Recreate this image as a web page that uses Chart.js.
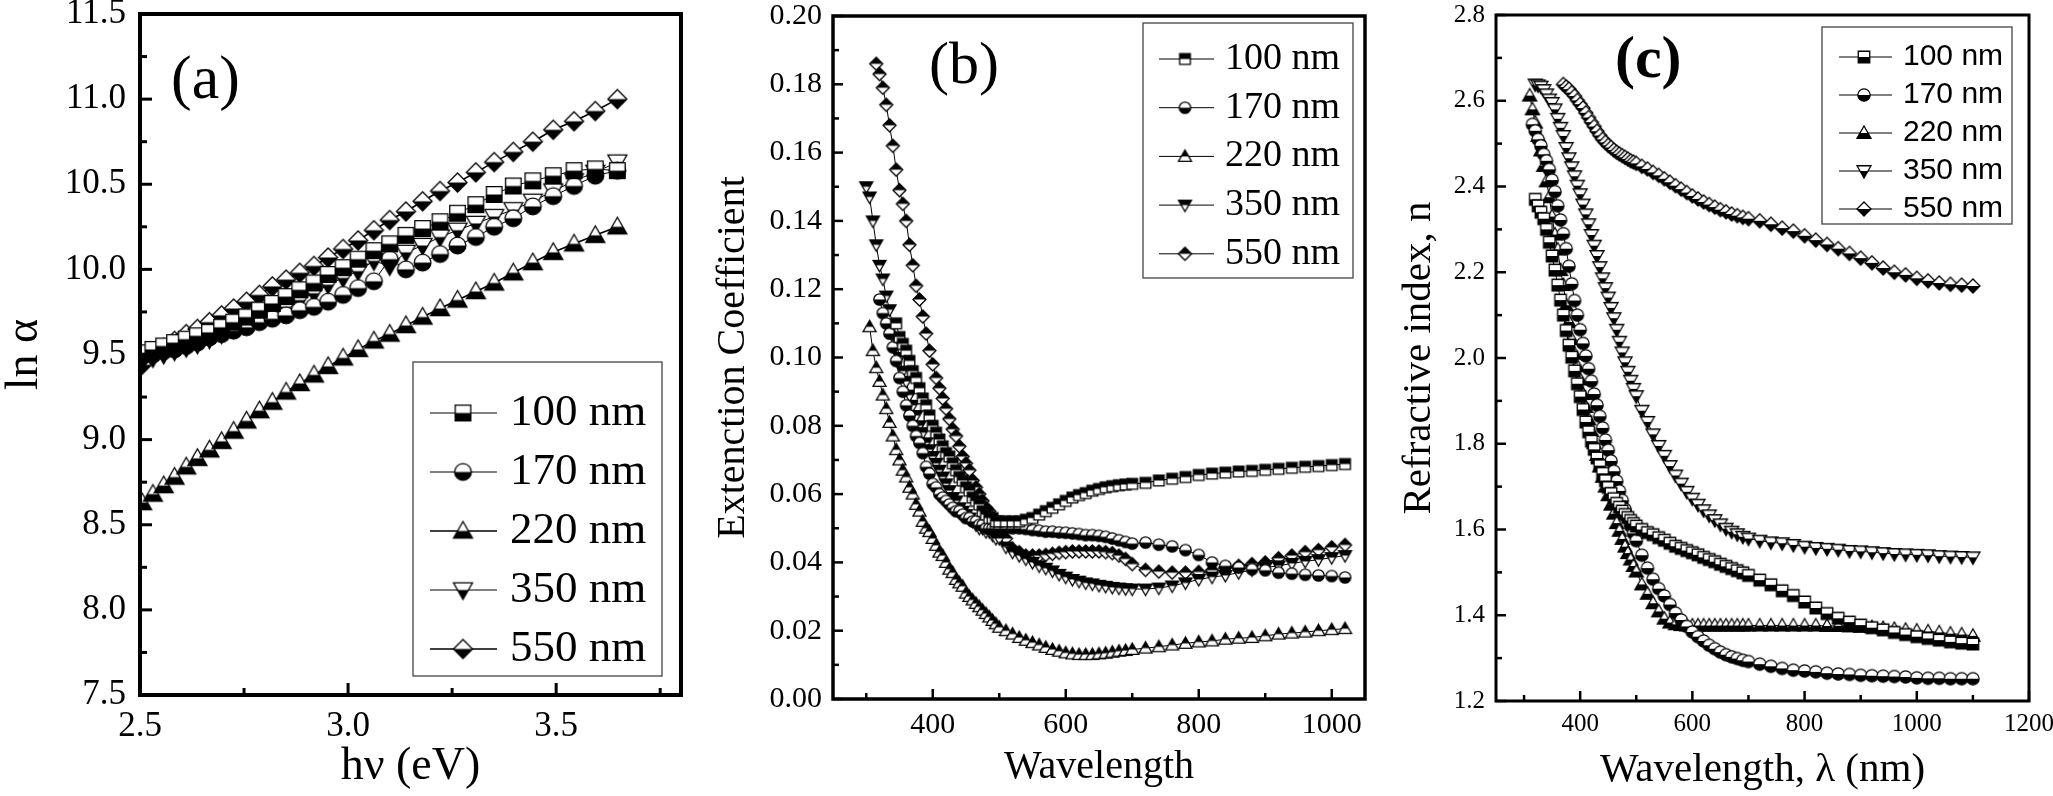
<!DOCTYPE html>
<html>
<head>
<meta charset="utf-8">
<script src="https://cdn.jsdelivr.net/npm/chart.js@4.4.0/dist/chart.umd.min.js"></script>
<style>
html, body { margin: 0; padding: 0; background: #fff; }
#fig { position: relative; width: 2053px; height: 796px; overflow: hidden; background: #fff; }
canvas { position: absolute; top: 0; }
</style>
</head>
<body>
<div id="fig">
  <canvas id="pa" width="700" height="796" style="left:0px"></canvas>
  <canvas id="pb" width="680" height="796" style="left:700px"></canvas>
  <canvas id="pc" width="673" height="796" style="left:1380px"></canvas>
</div>
<script>
// ---------- data ----------
let seriesLabels = ['100 nm', '170 nm', '220 nm', '350 nm', '550 nm'];

// (a) ln(alpha) vs photon energy
let aEnergy = [2.505, 2.531, 2.557, 2.583, 2.611, 2.638, 2.667, 2.696, 2.725, 2.756, 2.787, 2.818, 2.851, 2.884, 2.918, 2.952,
  2.988, 3.024, 3.062, 3.100, 3.139, 3.179, 3.221, 3.263, 3.307, 3.351, 3.397, 3.444, 3.493, 3.543, 3.594, 3.647];
let a100 = [9.51, 9.53, 9.55, 9.57, 9.59, 9.61, 9.63, 9.66, 9.69, 9.72, 9.76, 9.80, 9.84, 9.88, 9.92, 9.97,
  10.01, 10.06, 10.11, 10.15, 10.20, 10.24, 10.28, 10.33, 10.38, 10.44, 10.49, 10.52, 10.55, 10.58, 10.59, 10.58];
let a170 = [9.49, 9.50, 9.52, 9.53, 9.55, 9.57, 9.60, 9.62, 9.64, 9.66, 9.69, 9.71, 9.73, 9.76, 9.78, 9.81,
  9.85, 9.89, 9.93, 10.06, 10.00, 10.04, 10.09, 10.14, 10.19, 10.25, 10.30, 10.37, 10.43, 10.49, 10.55, 10.58];
let a220 = [8.63, 8.68, 8.73, 8.78, 8.84, 8.89, 8.94, 8.99, 9.05, 9.11, 9.17, 9.22, 9.28, 9.33, 9.38, 9.43,
  9.48, 9.53, 9.58, 9.62, 9.67, 9.72, 9.77, 9.82, 9.87, 9.92, 9.98, 10.04, 10.10, 10.15, 10.20, 10.25];
let a350 = [9.46, 9.48, 9.50, 9.52, 9.54, 9.56, 9.59, 9.62, 9.65, 9.68, 9.71, 9.74, 9.78, 9.82, 9.86, 9.91,
  9.95, 9.99, 10.05, 10.02, 10.10, 10.14, 10.19, 10.23, 10.27, 10.31, 10.35, 10.40, 10.46, 10.52, 10.57, 10.63];
let a550 = [9.44, 9.50, 9.54, 9.58, 9.62, 9.65, 9.69, 9.73, 9.77, 9.81, 9.85, 9.90, 9.94, 9.98, 10.02, 10.07,
  10.12, 10.17, 10.23, 10.29, 10.34, 10.40, 10.46, 10.51, 10.57, 10.63, 10.69, 10.75, 10.82, 10.87, 10.93, 11.00];

// (b) extinction coefficient vs wavelength
let bWave = [300, 305, 310, 315, 320, 325, 330, 335, 340, 345, 350, 355, 360, 365, 370, 375, 380, 385, 390, 395,
  400, 405, 410, 415, 420, 425, 430, 435, 440, 445, 450, 455, 460, 465, 470, 475, 480, 485, 490, 495, 500,
  510, 520, 530, 540, 550, 560, 570, 580, 590, 600, 610, 620, 630, 640, 650, 660, 670, 680, 690, 700,
  720, 740, 760, 780, 800, 820, 840, 860, 880, 900, 920, 940, 960, 980, 1000, 1020];
let b100 = [null, null, null, null, null, null, null, null, null,
  0.110, 0.106, 0.104, 0.102, 0.099, 0.096, 0.094, 0.091, 0.088, 0.086, 0.083, 0.080, 0.078, 0.076, 0.074, 0.072, 0.071,
  0.069, 0.067, 0.065, 0.064, 0.062, 0.061, 0.059, 0.058, 0.057, 0.055, 0.054, 0.053, 0.053, 0.052, 0.052,
  0.052, 0.052, 0.052, 0.0525, 0.053, 0.054, 0.055, 0.056, 0.057, 0.058, 0.059, 0.0597, 0.0603, 0.061, 0.0615, 0.062,
  0.0623, 0.0626, 0.0628, 0.063,
  0.0633, 0.064, 0.0645, 0.065, 0.0656, 0.066, 0.0663, 0.0666, 0.0668, 0.0671, 0.0674, 0.0677, 0.068, 0.0682, 0.0685, 0.0688];
let b170 = [null, null, null, null,
  0.117, 0.113, 0.110, 0.107, 0.103, 0.099, 0.094, 0.090, 0.086, 0.083, 0.080, 0.077, 0.075, 0.072, 0.068, 0.066,
  0.063, 0.062, 0.060, 0.059, 0.058, 0.057, 0.056, 0.055, 0.055, 0.054, 0.053, 0.053, 0.052, 0.052, 0.051, 0.051,
  0.050, 0.050, 0.050, 0.050, 0.050,
  0.050, 0.050, 0.050, 0.0498, 0.0495, 0.0493, 0.049, 0.049, 0.0488, 0.0487, 0.0485, 0.0483, 0.048, 0.048, 0.0478, 0.0475,
  0.047, 0.0465, 0.046, 0.0455,
  0.0458, 0.0452, 0.0447, 0.0436, 0.0422, 0.040, 0.039, 0.0385, 0.038, 0.0377, 0.037, 0.0367, 0.0364, 0.0362, 0.036, 0.0356];
let b220 = [null,
  0.109, 0.102, 0.097, 0.093, 0.089, 0.085, 0.081, 0.077, 0.073, 0.070, 0.067, 0.065, 0.062, 0.060, 0.057, 0.055,
  0.052, 0.050, 0.049, 0.047, 0.045, 0.043, 0.042, 0.040, 0.038, 0.037, 0.035, 0.034, 0.033, 0.031, 0.030, 0.029,
  0.028, 0.027, 0.026, 0.025, 0.024, 0.023, 0.022, 0.021,
  0.020, 0.019, 0.018, 0.0172, 0.0165, 0.0158, 0.0151, 0.0145, 0.014, 0.0135, 0.0132, 0.013, 0.013, 0.013, 0.0132, 0.0134,
  0.0137, 0.014, 0.0142, 0.0145,
  0.0149, 0.0153, 0.0158, 0.0163, 0.0167, 0.017, 0.0175, 0.0178, 0.018, 0.0185, 0.019, 0.0193, 0.0196, 0.020, 0.0203, 0.0206];
let b350 = [0.150, 0.147, 0.140, 0.133, 0.127, 0.123, 0.118, 0.114, 0.109, 0.105, 0.100, 0.096, 0.093, 0.089, 0.086, 0.083,
  0.080, 0.078, 0.075, 0.073, 0.071, 0.069, 0.067, 0.065, 0.063, 0.061, 0.059, 0.058, 0.056, 0.055, 0.054, 0.053,
  0.052, 0.051, 0.050, 0.050, 0.049, 0.049, 0.048, 0.047, 0.047,
  0.0445, 0.043, 0.042, 0.041, 0.040, 0.039, 0.0383, 0.0375, 0.0365, 0.0357, 0.035, 0.0345, 0.034, 0.0337, 0.0333, 0.033,
  0.0327, 0.0325, 0.0323, 0.0322,
  0.0322, 0.0325, 0.0331, 0.034, 0.035, 0.0357, 0.0362, 0.037, 0.0378, 0.0385, 0.039, 0.0397, 0.0403, 0.0408, 0.0414, 0.042];
let b550 = [null, null, null,
  0.186, 0.183, 0.179, 0.174, 0.168, 0.162, 0.155, 0.149, 0.145, 0.140, 0.133, 0.127, 0.121, 0.117, 0.112, 0.107,
  0.102, 0.098, 0.094, 0.091, 0.088, 0.085, 0.082, 0.079, 0.077, 0.074, 0.071, 0.069, 0.067, 0.064, 0.062, 0.060,
  0.058, 0.056, 0.055, 0.053, 0.052, 0.051,
  0.047, 0.044, 0.043, 0.042, 0.042, 0.042, 0.0422, 0.0425, 0.0428, 0.043, 0.0432, 0.0432, 0.0432, 0.0432, 0.0432, 0.043,
  0.0427, 0.042, 0.041, 0.0395,
  0.0378, 0.0373, 0.037, 0.037, 0.0372, 0.0377, 0.0385, 0.039, 0.0395, 0.040, 0.0412, 0.042, 0.043, 0.0436, 0.0444, 0.0451];

// (c) refractive index vs wavelength
let cWave = [310, 315, 320, 325, 330, 335, 340, 345, 350, 355, 360, 365, 370, 375, 380, 385, 390, 395,
  400, 405, 410, 415, 420, 425, 430, 435, 440, 445, 450, 455, 460, 465, 470, 475, 480, 485, 490, 495, 500,
  510, 520, 530, 540, 550, 560, 570, 580, 590, 600, 610, 620, 630, 640, 650, 660, 670, 680, 690, 700,
  720, 740, 760, 780, 800, 820, 840, 860, 880, 900, 920, 940, 960, 980, 1000, 1020, 1040, 1060, 1080, 1100];
let c100 = [null, null,
  2.370, 2.355, 2.340, 2.325, 2.300, 2.270, 2.238, 2.205, 2.170, 2.135, 2.100, 2.064, 2.030, 2.002, 1.970, 1.940,
  1.910, 1.880, 1.851, 1.828, 1.806, 1.787, 1.767, 1.749, 1.731, 1.714, 1.698, 1.684, 1.672, 1.661, 1.652, 1.643,
  1.635, 1.628, 1.621, 1.614, 1.608,
  1.600, 1.593, 1.588, 1.581, 1.575, 1.568, 1.561, 1.556, 1.551, 1.546, 1.541, 1.535, 1.530, 1.525, 1.519, 1.514,
  1.509, 1.504, 1.499, 1.493,
  1.482, 1.471, 1.457, 1.446, 1.431, 1.417, 1.404, 1.393, 1.384, 1.377, 1.371, 1.366, 1.360, 1.355, 1.350, 1.346,
  1.342, 1.338, 1.335, 1.333];
let c170 = [null,
  2.545, 2.530, 2.510, 2.495, 2.475, 2.460, 2.440, 2.415, 2.388, 2.355, 2.322, 2.290, 2.255, 2.214, 2.173, 2.134, 2.100,
  2.066, 2.034, 2.005, 1.975, 1.946, 1.916, 1.890, 1.864, 1.837, 1.809, 1.785, 1.760, 1.736, 1.713, 1.690, 1.668,
  1.647, 1.626, 1.608, 1.591, 1.574,
  1.540, 1.510, 1.484, 1.462, 1.445, 1.425, 1.405, 1.389, 1.374, 1.361, 1.350, 1.340, 1.330, 1.322, 1.314, 1.308,
  1.303, 1.299, 1.295, 1.292,
  1.286, 1.281, 1.276, 1.272, 1.270, 1.268, 1.265, 1.263, 1.262, 1.260, 1.259, 1.258, 1.257, 1.256, 1.254, 1.253,
  1.253, 1.252, 1.252, 1.252];
let c220 = [2.612, 2.580, 2.549, 2.518, 2.484, 2.448, 2.412, 2.375, 2.330, 2.288, 2.253, 2.205, 2.170, 2.123, 2.084, 2.044,
  2.010, 1.981, 1.950, 1.916, 1.886, 1.857, 1.830, 1.801, 1.774, 1.747, 1.723, 1.700, 1.680, 1.658, 1.637, 1.615,
  1.597, 1.578, 1.560, 1.545, 1.530, 1.515, 1.502,
  1.472, 1.450, 1.428, 1.409, 1.392, 1.383, 1.379, 1.377, 1.376, 1.376, 1.376, 1.376, 1.376, 1.376, 1.376, 1.376,
  1.376, 1.376, 1.376, 1.376,
  1.376, 1.376, 1.376, 1.376, 1.376, 1.376, 1.375, 1.375, 1.374, 1.373, 1.372, 1.370, 1.368, 1.366, 1.364, 1.362,
  1.360, 1.357, 1.355, 1.352];
let c350 = [null, null,
  2.638, 2.636, 2.633, 2.625, 2.615, 2.603, 2.595, 2.580, 2.558, 2.537, 2.518, 2.490, 2.466, 2.445, 2.424, 2.402,
  2.382, 2.358, 2.335, 2.312, 2.287, 2.262, 2.238, 2.212, 2.186, 2.163, 2.141, 2.117, 2.093, 2.066, 2.038, 2.013,
  1.990, 1.968, 1.947, 1.928, 1.911,
  1.877, 1.851, 1.822, 1.795, 1.772, 1.748, 1.726, 1.707, 1.688, 1.672, 1.658, 1.645, 1.633, 1.622, 1.612, 1.602,
  1.595, 1.589, 1.583, 1.579,
  1.574, 1.570, 1.568, 1.564, 1.560, 1.557, 1.555, 1.553, 1.550, 1.549, 1.547, 1.545, 1.543, 1.542, 1.541, 1.540,
  1.538, 1.537, 1.536, 1.535];
let c550 = [null, null, null, null, null, null, null, null, null, null, null, null,
  2.638, 2.632, 2.627, 2.619, 2.611, 2.601, 2.592, 2.583, 2.572, 2.561, 2.550, 2.540, 2.529, 2.519, 2.510, 2.503,
  2.496, 2.491, 2.485, 2.480, 2.476, 2.472, 2.468, 2.464, 2.460, 2.457, 2.454,
  2.447, 2.441, 2.433, 2.426, 2.418, 2.410, 2.402, 2.394, 2.386, 2.378, 2.371, 2.364, 2.358, 2.352, 2.346, 2.341,
  2.336, 2.332, 2.328, 2.325,
  2.320, 2.312, 2.303, 2.296, 2.285, 2.275, 2.265, 2.255, 2.244, 2.233, 2.222, 2.210, 2.200, 2.194, 2.186, 2.180,
  2.175, 2.172, 2.170, 2.168];

// ticks
let aXTicks = [2.5, 3.0, 3.5];
let aXMinor = [2.75, 3.25, 3.75];
let aYTicks = [7.5, 8.0, 8.5, 9.0, 9.5, 10.0, 10.5, 11.0, 11.5];
let aYMinor = [7.75, 8.25, 8.75, 9.25, 9.75, 10.25, 10.75, 11.25];
let bXTicks = [400, 600, 800, 1000];
let bXMinor = [300, 500, 700, 900];
let bYTicks = [0, 0.02, 0.04, 0.06, 0.08, 0.10, 0.12, 0.14, 0.16, 0.18, 0.20];
let bYMinor = [0.01, 0.03, 0.05, 0.07, 0.09, 0.11, 0.13, 0.15, 0.17, 0.19];
let cXTicks = [400, 600, 800, 1000, 1200];
let cXMinor = [300, 500, 700, 900, 1100];
let cYTicks = [1.2, 1.4, 1.6, 1.8, 2.0, 2.2, 2.4, 2.6, 2.8];
let cYMinor = [1.3, 1.5, 1.7, 1.9, 2.1, 2.3, 2.5, 2.7];

// ---------- helpers ----------
const SERIF = 'Liberation Serif';

// half filled marker drawn on a small canvas
function marker(shape, size, topBlack) {
  const pad = 2;
  const c = document.createElement('canvas');
  c.width = c.height = size + pad * 2;
  const g = c.getContext('2d');
  const m = c.width / 2, r = size / 2;
  const path = () => {
    g.beginPath();
    if (shape === 'square') g.rect(m - r * 0.82, m - r * 0.82, r * 1.64, r * 1.64);
    else if (shape === 'circle') g.arc(m, m, r * 0.88, 0, Math.PI * 2);
    else if (shape === 'up') { g.moveTo(m, m - r); g.lineTo(m + r, m + r * 0.75); g.lineTo(m - r, m + r * 0.75); g.closePath(); }
    else if (shape === 'down') { g.moveTo(m, m + r); g.lineTo(m + r, m - r * 0.75); g.lineTo(m - r, m - r * 0.75); g.closePath(); }
    else { g.moveTo(m, m - r); g.lineTo(m + r, m); g.lineTo(m, m + r); g.lineTo(m - r, m); g.closePath(); }
  };
  path(); g.fillStyle = '#fff'; g.fill();
  g.save(); path(); g.clip();
  g.fillStyle = '#000';
  g.fillRect(0, topBlack ? 0 : m, c.width, c.height / 2);
  g.restore();
  path(); g.lineWidth = 1.3; g.strokeStyle = '#000'; g.stroke();
  return c;
}

function pts(xs, ys) {
  const out = [];
  xs.forEach((x, i) => { if (ys[i] !== null) out.push({ x: x, y: ys[i] }); });
  return out;
}

function makeSets(xs, ys, size, tops, widths) {
  const shapes = ['square', 'circle', 'up', 'down', 'diamond'];
  return ys.map((y, i) => ({
    label: seriesLabels[i],
    data: pts(xs, y),
    borderColor: '#000',
    borderWidth: widths[i],
    pointStyle: marker(shapes[i], size, tops[i]),
    pointRadius: size / 2,
    pointHoverRadius: size / 2,
    tension: 0,
    fill: false
  }));
}

// frame, inward ticks, panel letter and legend
const figurePlugin = {
  id: 'figure',
  afterDatasetsDraw(chart, args, o) {
    const { ctx, chartArea: a } = chart;
    const x = chart.scales.x, y = chart.scales.y;
    ctx.save();
    ctx.strokeStyle = '#000';
    ctx.lineWidth = o.tickWidth;
    const tick = (scale, vals, len) => vals.forEach(v => {
      const p = scale.getPixelForValue(v);
      ctx.beginPath();
      if (scale.isHorizontal()) { ctx.moveTo(p, a.bottom); ctx.lineTo(p, a.bottom - len); }
      else { ctx.moveTo(a.left, p); ctx.lineTo(a.left + len, p); }
      ctx.stroke();
    });
    tick(x, o.xMajor, o.majorLen); tick(x, o.xMinor, o.minorLen);
    tick(y, o.yMajor, o.majorLen); tick(y, o.yMinor, o.minorLen);
    ctx.lineWidth = o.frameWidth;
    ctx.strokeRect(a.left, a.top, a.right - a.left, a.bottom - a.top);

    ctx.fillStyle = '#000';
    ctx.font = o.labelFont;
    ctx.textAlign = 'left';
    ctx.textBaseline = 'middle';
    ctx.fillText(o.label, o.labelX, o.labelY);

    const L = o.legend;
    ctx.fillStyle = '#fff';
    ctx.fillRect(L.x, L.y, L.w, L.h);
    ctx.lineWidth = 1.3;
    ctx.strokeStyle = '#444';
    ctx.strokeRect(L.x, L.y, L.w, L.h);
    chart.data.datasets.forEach((ds, i) => {
      const yy = L.row0 + i * L.gap;
      ctx.strokeStyle = '#000';
      ctx.lineWidth = ds.borderWidth;
      ctx.beginPath(); ctx.moveTo(L.line0, yy); ctx.lineTo(L.line1, yy); ctx.stroke();
      const img = ds.pointStyle;
      ctx.drawImage(img, L.mark - img.width / 2, yy - img.height / 2);
      ctx.fillStyle = '#000';
      ctx.font = L.font;
      ctx.textBaseline = 'middle';
      ctx.fillText(ds.label, L.text, yy);
    });
    ctx.restore();
  }
};

function panel(id, p) {
  return new Chart(document.getElementById(id), {
    type: 'line',
    data: { datasets: p.sets },
    plugins: [figurePlugin],
    options: {
      responsive: false,
      animation: false,
      events: [],
      layout: { padding: { left: 0, top: p.top, right: p.right, bottom: 0 } },
      plugins: { legend: { display: false }, tooltip: { enabled: false }, figure: p.fig },
      scales: {
        x: {
          type: 'linear', min: p.xMin, max: p.xMax,
          afterBuildTicks: s => { s.ticks = p.xTicks.map(v => ({ value: v })); },
          afterFit: s => { s.height = p.xH; s.paddingLeft = 0; s.paddingRight = 0; },
          grid: { display: false, drawTicks: false }, border: { display: false },
          ticks: { autoSkip: false, maxRotation: 0, padding: p.xPad, color: '#000', font: p.tickFont, callback: p.xFmt },
          title: { display: true, text: p.xTitle, color: '#000', font: p.xTitleFont, padding: { top: 0, bottom: p.xTitlePad } }
        },
        y: {
          type: 'linear', min: p.yMin, max: p.yMax,
          afterBuildTicks: s => { s.ticks = p.yTicks.map(v => ({ value: v })); },
          afterFit: s => { s.width = p.yW; s.paddingTop = 0; s.paddingBottom = 0; },
          grid: { display: false, drawTicks: false }, border: { display: false },
          ticks: { autoSkip: false, padding: p.yPad, color: '#000', font: p.tickFont, callback: p.yFmt },
          title: { display: true, text: p.yTitle, color: '#000', font: p.yTitleFont, padding: { top: p.yTitlePad, bottom: 0 } }
        }
      }
    }
  });
}

// ---------- (a) ----------
panel('pa', {
  sets: makeSets(aEnergy, [a100, a170, a220, a350, a550], 19, [false, false, false, false, false], [1, 1, 1.6, 1, 1.6]),
  top: 14, right: 19, xH: 101, yW: 140,
  xMin: 2.5, xMax: 3.8, yMin: 7.5, yMax: 11.5,
  xTicks: aXTicks, yTicks: aYTicks,
  xFmt: v => v.toFixed(1), yFmt: v => v.toFixed(1),
  tickFont: { family: SERIF, size: 35 }, xPad: 11, yPad: 14,
  xTitle: 'h\u03BD (eV)', xTitleFont: { family: SERIF, size: 46, lineHeight: 1 }, xTitlePad: 6,
  yTitle: 'ln \u03B1', yTitleFont: { family: SERIF, size: 46, lineHeight: 1 }, yTitlePad: 2,
  fig: {
    xMajor: aXTicks, xMinor: aXMinor, yMajor: aYTicks, yMinor: aYMinor,
    majorLen: 12, minorLen: 7, tickWidth: 3, frameWidth: 4,
    label: '(a)', labelFont: '62px ' + SERIF, labelX: 171, labelY: 82,
    legend: { x: 413, y: 362, w: 249, h: 314, row0: 413, gap: 59, line0: 430, line1: 497, mark: 463, text: 510, font: '45px ' + SERIF }
  }
});

// ---------- (b) ----------
panel('pb', {
  sets: makeSets(bWave, [b100, b170, b220, b350, b550], 13, [true, false, true, true, true], [1, 1, 1, 1, 1]),
  top: 16, right: 15, xH: 97, yW: 133,
  xMin: 250, xMax: 1050, yMin: 0, yMax: 0.2,
  xTicks: bXTicks, yTicks: bYTicks,
  xFmt: v => String(v), yFmt: v => v.toFixed(2),
  tickFont: { family: SERIF, size: 30 }, xPad: 8, yPad: 11,
  xTitle: 'Wavelength', xTitleFont: { family: SERIF, size: 40, lineHeight: 1 }, xTitlePad: 9,
  yTitle: 'Extenction Coefficient', yTitleFont: { family: SERIF, size: 40, lineHeight: 1 }, yTitlePad: 13,
  fig: {
    xMajor: bXTicks, xMinor: bXMinor, yMajor: bYTicks, yMinor: bYMinor,
    majorLen: 10, minorLen: 6, tickWidth: 2.5, frameWidth: 3.5,
    label: '(b)', labelFont: '60px ' + SERIF, labelX: 229, labelY: 67,
    legend: { x: 443, y: 23, w: 210, h: 255, row0: 59, gap: 48.7, line0: 459, line1: 514, mark: 485, text: 525, font: '38px ' + SERIF }
  }
});

// ---------- (c) ----------
panel('pc', {
  sets: makeSets(cWave, [c100, c170, c220, c350, c550], 14, [false, false, false, false, false], [1, 1, 1, 1, 1]),
  top: 15, right: 24, xH: 95, yW: 116,
  xMin: 250, xMax: 1200, yMin: 1.2, yMax: 2.8,
  xTicks: cXTicks, yTicks: cYTicks,
  xFmt: v => String(v), yFmt: v => v.toFixed(1),
  tickFont: { family: SERIF, size: 25 }, xPad: 8, yPad: 11,
  xTitle: 'Wavelength, \u03BB (nm)', xTitleFont: { family: SERIF, size: 41, lineHeight: 1 }, xTitlePad: 5,
  yTitle: 'Refractive index, n', yTitleFont: { family: SERIF, size: 41, lineHeight: 1 }, yTitlePad: 19,
  fig: {
    xMajor: cXTicks, xMinor: cXMinor, yMajor: cYTicks, yMinor: cYMinor,
    majorLen: 10, minorLen: 6, tickWidth: 2.5, frameWidth: 3,
    label: '(c)', labelFont: 'bold 60px ' + SERIF, labelX: 235, labelY: 61,
    legend: { x: 442, y: 27, w: 190, h: 197, row0: 57, gap: 38, line0: 459, line1: 512, mark: 484, text: 523, font: '30px "Liberation Sans"' }
  }
});
</script>
</body>
</html>
